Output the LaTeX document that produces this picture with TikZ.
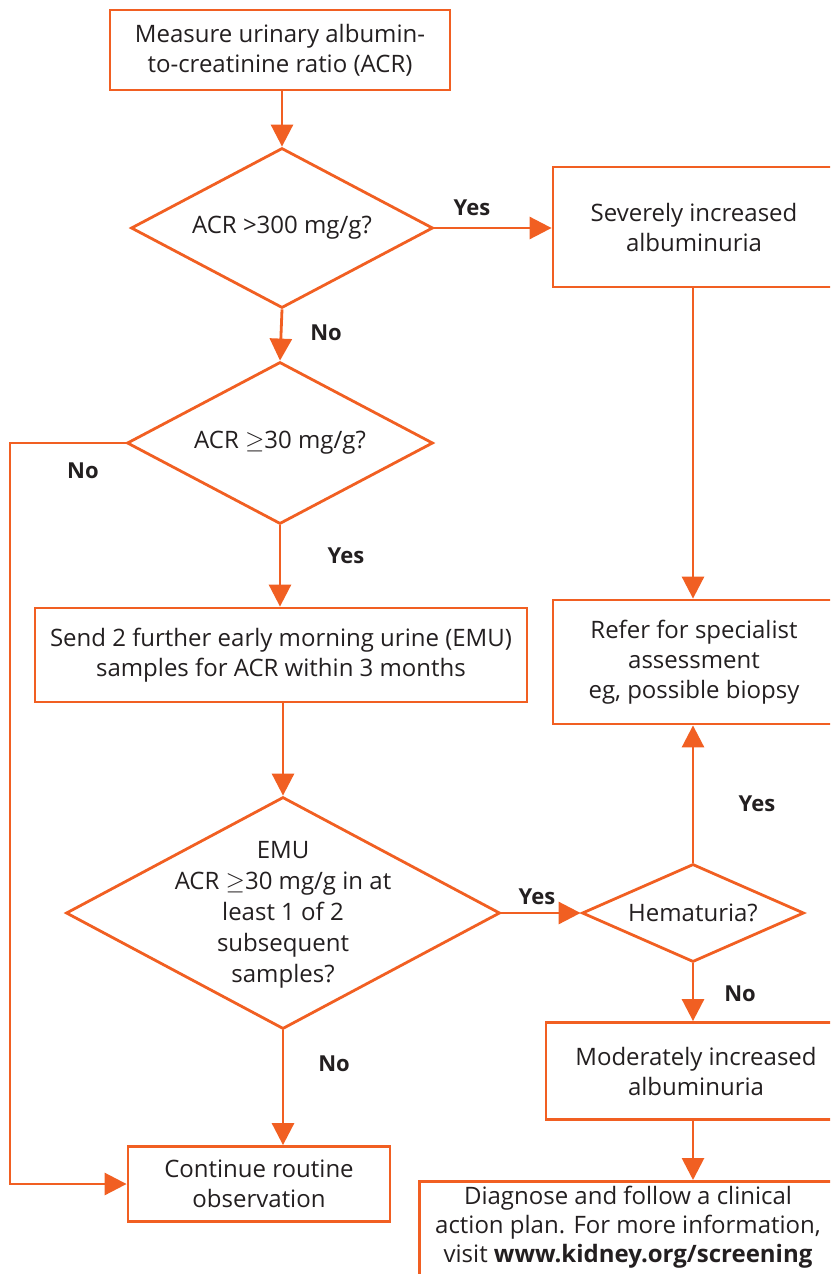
\documentclass[tikz,border=0pt]{standalone}
\usepackage{fontspec}
\setmainfont{Open Sans}
\usetikzlibrary{shapes.geometric,arrows.meta}
\definecolor{org}{HTML}{F15F22}
\definecolor{ink}{HTML}{231F20}
\begin{document}
\begin{tikzpicture}[x=1pt,y=-1pt,
  box/.style={draw=org, line width=2.8pt, inner sep=0pt, text=ink, align=center, font=\fontsize{24}{30}\selectfont},
  dia/.style={draw=org, line width=2.8pt, diamond, inner sep=0pt},
  txt/.style={text=ink, align=center, font=\fontsize{24}{31}\selectfont, inner sep=0pt},
  lbl/.style={text=ink, font=\fontsize{22}{26}\selectfont\bfseries, inner sep=0pt},
  arr/.style={draw=org, line width=2.8pt, -{Triangle[length=22pt,width=22pt]}}]
\useasboundingbox (0,0) rectangle (830,1274);
\clip (0,0) rectangle (830,1274);
% boxes
\node[box, minimum width=340pt, minimum height=80pt] (m) at (280,50) {Measure urinary albumin-\\to-creatinine ratio (ACR)};
\node[box, minimum width=282pt, minimum height=120pt] (sev) at (694,227) {Severely increased\\albuminuria};
\node[box, minimum width=492pt, minimum height=94pt] (send) at (281,655) {Send 2 further early morning urine (EMU)\\samples for ACR within 3 months};
\node[box, minimum width=282pt, minimum height=124pt] (ref) at (694,662) {Refer for specialist\\assessment\\eg, possible biopsy};
\node[box, minimum width=262pt, minimum height=75pt] (cont) at (259,1184) {Continue routine\\observation};
\node[box, minimum width=300pt, minimum height=97pt] (mod) at (696,1071) {Moderately increased\\albuminuria};
\node[box, minimum width=420pt, minimum height=100pt, anchor=north west] (diag) at (418,1180) {};
\node[txt, anchor=north, font=\fontsize{24}{29}\selectfont] (diagt) at (628,1186) {Diagnose and follow a clinical\\action plan. For more information,\\visit \textbf{www.kidney.org/screening}};
% diamonds
\node[dia, minimum width=302pt, minimum height=160pt] (d1) at (282,228) {};
\node[txt] at (d1.center) {ACR >300 mg/g?};
\node[dia, minimum width=306pt, minimum height=162pt] (d2) at (280,443) {};
\node[txt] at (d2.center) {ACR $\geq$30 mg/g?};
\node[dia, minimum width=434pt, minimum height=232pt] (d3) at (283,913) {};
\node[txt] at ([yshift=-2pt]d3.center) {EMU\\ACR $\geq$30 mg/g in at\\least 1 of 2\\subsequent\\samples?};
\node[dia, minimum width=222pt, minimum height=98pt] (hem) at (693,913) {};
\node[txt] at (hem.center) {Hematuria?};
% connectors
\draw[arr] (m.south -| d1.north) -- (d1.north);
\draw[arr] (d1.east) -- (d1.east -| sev.west);
\draw[arr] (d1.south) -- (d2.north);
\draw[arr] (sev.south -| hem.north) -- (ref.north -| hem.north);
\draw[arr] (d2.south) -- (send.north -| d2.south);
\coordinate (lc) at (10,443);
\draw[arr] (d2.west) -- (lc) |- (cont.west);
\draw[arr] (send.south -| d3.north) -- (d3.north);
\draw[arr] (d3.east) -- (hem.west);
\draw[arr] (d3.south) -- (cont.north -| d3.south);
\draw[arr] (hem.north) -- (ref.south -| hem.north);
\draw[arr] (hem.south) -- (mod.north -| hem.south);
\draw[arr] (mod.south -| hem.south) -- (diag.north -| hem.south);
% labels
\node[lbl] at (472,208) {Yes};
\node[lbl] at (326,333) {No};
\node[lbl] at (83,471) {No};
\node[lbl] at (346,556) {Yes};
\node[lbl] at (537,897) {Yes};
\node[lbl] at (334,1064) {No};
\node[lbl] at (757,804) {Yes};
\node[lbl] at (740,994) {No};
\end{tikzpicture}
\end{document}
